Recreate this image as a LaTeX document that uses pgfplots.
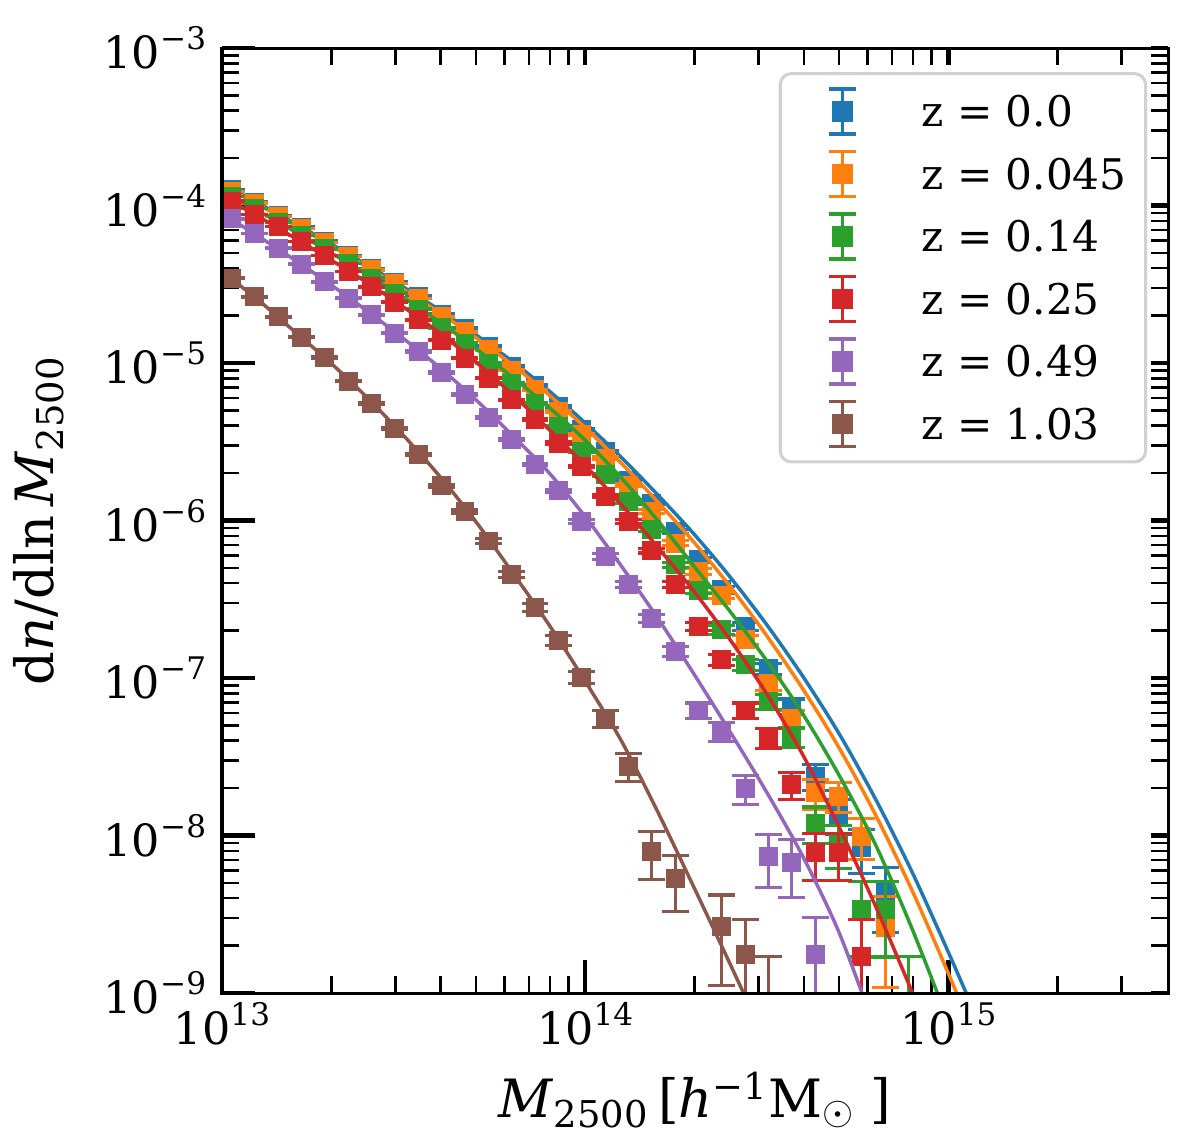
\documentclass[border=0pt]{standalone}
\usepackage{fontspec}
\setmainfont{DejaVu Serif}
\usepackage{pgfplots}
\pgfplotsset{compat=1.18}
\definecolor{tblue}{HTML}{1F77B4}
\definecolor{torange}{HTML}{FF7F0E}
\definecolor{tgreen}{HTML}{2CA02C}
\definecolor{tred}{HTML}{D62728}
\definecolor{tpurple}{HTML}{9467BD}
\definecolor{tbrown}{HTML}{8C564B}
\newcommand{\ts}[1]{\raisebox{0.42em}{\fontsize{11.2}{12}\selectfont #1}}
\pgfplotsset{
  errleg/.style={legend image code/.code={%
    \path (-15.15pt,0pt);
    \draw[#1,sharp corners,line width=1.1pt] (0pt,-8.1pt) -- (0pt,8.1pt);
    \draw[#1,sharp corners,line width=1.1pt] (-4.85pt,-8.1pt) -- (4.85pt,-8.1pt);
    \draw[#1,sharp corners,line width=1.1pt] (-4.85pt,8.1pt) -- (4.85pt,8.1pt);
    \fill[#1,sharp corners] (-3.2pt,-3.2pt) rectangle (3.2pt,3.2pt);
  }},
  dat/.style={#1, only marks, mark=square*, mark size=3.2pt, errleg=#1,
    mark options={solid},
    error bars/.cd, y dir=both, y explicit relative,
    error bar style={line width=1.1pt, solid},
    error mark options={rotate=90, mark size=4.85pt, line width=1.1pt, solid}},
  mdl/.style={#1, line width=1.25pt, no marks, smooth, forget plot},
}
\begin{document}
\begin{tikzpicture}
\begin{axis}[
  scale only axis, width=340.6pt, height=340.2pt,
  xmode=log, ymode=log,
  xmin=1e13, xmax=4.03e15, ymin=1e-9, ymax=1e-3,
  xtick={1e13,1e14,1e15},
  xticklabels={10\ts{13},10\ts{14},10\ts{15}},
  ytick={1e-9,1e-8,1e-7,1e-6,1e-5,1e-4,1e-3},
  yticklabels={10\ts{−9},10\ts{−8},10\ts{−7},10\ts{−6},10\ts{−5},10\ts{−4},10\ts{−3}},
  minor xtick={2e13,3e13,4e13,5e13,6e13,7e13,8e13,9e13,2e14,3e14,4e14,5e14,6e14,7e14,8e14,9e14,2e15,3e15},
  minor ytick={2e-9,3e-9,4e-9,5e-9,6e-9,7e-9,8e-9,9e-9,2e-8,3e-8,4e-8,5e-8,6e-8,7e-8,8e-8,9e-8,2e-7,3e-7,4e-7,5e-7,6e-7,7e-7,8e-7,9e-7,2e-6,3e-6,4e-6,5e-6,6e-6,7e-6,8e-6,9e-6,2e-5,3e-5,4e-5,5e-5,6e-5,7e-5,8e-5,9e-5,2e-4,3e-4,4e-4,5e-4,6e-4,7e-4,8e-4,9e-4},
  xtick pos=left, ytick pos=left,
  tick align=inside,
  major tick length=11.9pt, minor tick length=6.1pt,
  major tick style={line width=1.6pt, black},
  minor tick style={line width=0.9pt, black},
  axis line style={line width=1.1pt},
  tick label style={font=\fontsize{16}{19}\selectfont},
  yticklabel style={xshift=-2.2pt},
  label style={font=\fontsize{19}{22}\selectfont},
  xlabel={\textit{M}\textsubscript{2500}\,[\textit{h}\textsuperscript{−1}M$_{\odot}$\hspace{0.3em}]},
  ylabel={d\textit{n}/dln\,\textit{M}\textsubscript{2500}},
  xlabel style={at={(axis description cs:0.5,-0.1312)}, anchor=base},
  ylabel style={at={(axis description cs:-0.1786,0.5)}, anchor=base},
  clip marker paths=true,
  legend cell align=left,
  legend style={at={(0.9778,0.9746)}, anchor=north east, draw=black!18, line width=1.1pt,
    rounded corners=4pt, fill=white, inner xsep=6.8pt, inner ysep=5pt,
    row sep=5.2pt, column sep=22.9pt, font=\fontsize{15.2}{18}\selectfont,
    nodes={inner sep=0pt, text height=11.1pt, text depth=0pt, anchor=west}},
]
% ---------------- z = 0.0 ----------------
\addplot[dat=tblue] coordinates {
(1.062e13,1.259e-4) +- (0,0.0026)
(1.231e13,1.052e-4) +- (0,0.0028)
(1.428e13,8.650e-5) +- (0,0.0031)
(1.655e13,7.295e-5) +- (0,0.0034)
(1.919e13,5.943e-5) +- (0,0.0037)
(2.226e13,4.808e-5) +- (0,0.0042)
(2.581e13,3.981e-5) +- (0,0.0046)
(2.993e13,3.273e-5) +- (0,0.0050)
(3.470e13,2.661e-5) +- (0,0.0056)
(4.024e13,2.042e-5) +- (0,0.0064)
(4.667e13,1.660e-5) +- (0,0.0071)
(5.411e13,1.279e-5) +- (0,0.0081)
(6.275e13,9.506e-6) +- (0,0.0094)
(7.276e13,7.244e-6) +- (0,0.0107)
(8.437e13,5.309e-6) +- (0,0.0125)
(9.784e13,3.802e-6) +- (0,0.0148)
(1.1345e14,2.748e-6) +- (0,0.0174)
(1.3155e14,1.799e-6) +- (0,0.0215)
(1.5254e14,1.291e-6) +- (0,0.0254)
(1.7688e14,8.531e-7) +- (0,0.0313)
(2.0512e14,5.636e-7) +- (0,0.0384)
(2.3784e14,3.631e-7) +- (0,0.0479)
(2.758e14,2.128e-7) +- (0,0.0626)
(3.198e14,1.146e-7) +- (0,0.0853)
(3.7085e14,6.622e-8) +- (0,0.112)
(4.300e14,2.377e-8) +- (0,0.187)
(4.9865e14,1.358e-8) +- (0,0.248)
(5.782e14,8.356e-9) +- (0,0.316)
(6.705e14,4.325e-9) +- (0,0.44)
};
\addlegendentry{z = 0.0}
\addplot[mdl=tblue] coordinates {
(1e13,1.374e-4)(1.259e13,1.035e-4)(1.585e13,7.727e-5)(1.995e13,5.715e-5)(2.512e13,4.188e-5)(3.162e13,3.034e-5)(3.981e13,2.163e-5)(5.012e13,1.507e-5)(6.310e13,1.023e-5)(7.943e13,6.683e-6)(1e14,4.169e-6)(1.259e14,2.512e-6)(1.585e14,1.455e-6)(1.995e14,8.204e-7)(2.512e14,4.355e-7)(3.162e14,2.183e-7)(3.981e14,1.021e-7)(5.012e14,4.406e-8)(6.310e14,1.698e-8)(7.943e14,5.888e-9)(1e15,1.820e-9)(1.259e15,5.370e-10)
};
% ---------------- z = 0.045 ----------------
\addplot[dat=torange] coordinates {
(1.062e13,1.233e-4) +- (0,0.0026)
(1.231e13,1.035e-4) +- (0,0.0028)
(1.428e13,8.532e-5) +- (0,0.0031)
(1.655e13,7.129e-5) +- (0,0.0034)
(1.919e13,5.834e-5) +- (0,0.0038)
(2.226e13,4.753e-5) +- (0,0.0042)
(2.581e13,3.917e-5) +- (0,0.0046)
(2.993e13,3.199e-5) +- (0,0.0051)
(3.470e13,2.570e-5) +- (0,0.0057)
(4.024e13,1.972e-5) +- (0,0.0065)
(4.667e13,1.585e-5) +- (0,0.0073)
(5.411e13,1.213e-5) +- (0,0.0083)
(6.275e13,9.016e-6) +- (0,0.0096)
(7.276e13,6.761e-6) +- (0,0.0111)
(8.437e13,4.920e-6) +- (0,0.0130)
(9.784e13,3.499e-6) +- (0,0.0154)
(1.1345e14,2.489e-6) +- (0,0.0183)
(1.3155e14,1.679e-6) +- (0,0.0223)
(1.5254e14,1.143e-6) +- (0,0.0270)
(1.7688e14,7.194e-7) +- (0,0.0340)
(2.0512e14,4.753e-7) +- (0,0.0419)
(2.3784e14,3.350e-7) +- (0,0.0499)
(2.758e14,1.754e-7) +- (0,0.0689)
(3.198e14,9.204e-8) +- (0,0.0952)
(3.7085e14,5.521e-8) +- (0,0.123)
(4.300e14,1.866e-8) +- (0,0.211)
(4.9865e14,1.778e-8) +- (0,0.217)
(5.782e14,9.908e-9) +- (0,0.29)
(6.705e14,2.594e-9) +- (0,0.58)
};
\addlegendentry{z = 0.045}
\addplot[mdl=torange] coordinates {
(1e13,1.346e-4)(1.259e13,1.012e-4)(1.585e13,7.534e-5)(1.995e13,5.559e-5)(2.512e13,4.064e-5)(3.162e13,2.931e-5)(3.981e13,2.080e-5)(5.012e13,1.442e-5)(6.310e13,9.727e-6)(7.943e13,6.295e-6)(1e14,3.890e-6)(1.259e14,2.307e-6)(1.585e14,1.312e-6)(1.995e14,7.278e-7)(2.512e14,3.793e-7)(3.162e14,1.858e-7)(3.981e14,8.492e-8)(5.012e14,3.581e-8)(6.310e14,1.349e-8)(7.943e14,4.498e-9)(1e15,1.334e-9)(1.259e15,3.758e-10)
};
% ---------------- z = 0.14 ----------------
\addplot[dat=tgreen] coordinates {
(1.062e13,1.143e-4) +- (0,0.0027)
(1.231e13,9.550e-5) +- (0,0.0030)
(1.428e13,7.852e-5) +- (0,0.0033)
(1.655e13,6.457e-5) +- (0,0.0036)
(1.919e13,5.321e-5) +- (0,0.0040)
(2.226e13,4.285e-5) +- (0,0.0044)
(2.581e13,3.467e-5) +- (0,0.0049)
(2.993e13,2.786e-5) +- (0,0.0055)
(3.470e13,2.198e-5) +- (0,0.0062)
(4.024e13,1.679e-5) +- (0,0.0070)
(4.667e13,1.337e-5) +- (0,0.0079)
(5.411e13,9.977e-6) +- (0,0.0091)
(6.275e13,7.413e-6) +- (0,0.0106)
(7.276e13,5.559e-6) +- (0,0.0122)
(8.437e13,3.954e-6) +- (0,0.0145)
(9.784e13,2.742e-6) +- (0,0.0174)
(1.1345e14,1.954e-6) +- (0,0.0207)
(1.3155e14,1.321e-6) +- (0,0.0251)
(1.5254e14,8.750e-7) +- (0,0.0309)
(1.7688e14,5.236e-7) +- (0,0.0399)
(2.0512e14,3.606e-7) +- (0,0.0481)
(2.3784e14,2.028e-7) +- (0,0.0641)
(2.758e14,1.216e-7) +- (0,0.0828)
(3.198e14,7.112e-8) +- (0,0.108)
(3.7085e14,4.227e-8) +- (0,0.140)
(4.300e14,1.202e-8) +- (0,0.263)
(4.9865e14,8.913e-9) +- (0,0.306)
(5.782e14,3.388e-9) +- (0,0.5)
(6.705e14,3.388e-9) +- (0,0.5)
(7.775e14,8.6e-10) +- (0,0.99)
};
\addlegendentry{z = 0.14}
\addplot[mdl=tgreen] coordinates {
(1e13,1.230e-4)(1.259e13,9.226e-5)(1.585e13,6.839e-5)(1.995e13,5.012e-5)(2.512e13,3.631e-5)(3.162e13,2.600e-5)(3.981e13,1.820e-5)(5.012e13,1.230e-5)(6.310e13,8.128e-6)(7.943e13,5.248e-6)(1e14,3.236e-6)(1.259e14,1.862e-6)(1.585e14,1.000e-6)(1.995e14,5.129e-7)(2.512e14,2.630e-7)(3.162e14,1.288e-7)(3.981e14,5.888e-8)(5.012e14,2.399e-8)(6.310e14,8.710e-9)(7.943e14,2.570e-9)(1e15,6.607e-10)
};
% ---------------- z = 0.25 ----------------
\addplot[dat=tred] coordinates {
(1.062e13,1.069e-4) +- (0,0.0028)
(1.231e13,8.790e-5) +- (0,0.0031)
(1.428e13,7.345e-5) +- (0,0.0034)
(1.655e13,5.902e-5) +- (0,0.0038)
(1.919e13,4.808e-5) +- (0,0.0042)
(2.226e13,3.819e-5) +- (0,0.0047)
(2.581e13,3.055e-5) +- (0,0.0052)
(2.993e13,2.427e-5) +- (0,0.0059)
(3.470e13,1.884e-5) +- (0,0.0067)
(4.024e13,1.396e-5) +- (0,0.0077)
(4.667e13,1.074e-5) +- (0,0.0088)
(5.411e13,8.017e-6) +- (0,0.0102)
(6.275e13,5.834e-6) +- (0,0.0120)
(7.276e13,4.365e-6) +- (0,0.0138)
(8.437e13,3.105e-6) +- (0,0.0164)
(9.784e13,2.203e-6) +- (0,0.0195)
(1.1345e14,1.429e-6) +- (0,0.0242)
(1.3155e14,9.863e-7) +- (0,0.0291)
(1.5254e14,6.457e-7) +- (0,0.0359)
(1.7688e14,3.917e-7) +- (0,0.0461)
(2.0512e14,2.128e-7) +- (0,0.0626)
(2.3784e14,1.309e-7) +- (0,0.0798)
(2.758e14,6.223e-8) +- (0,0.116)
(3.198e14,4.169e-8) +- (0,0.141)
(3.7085e14,2.109e-8) +- (0,0.199)
(4.300e14,7.762e-9) +- (0,0.33)
(4.9865e14,7.762e-9) +- (0,0.33)
(5.782e14,1.714e-9) +- (0,0.707)
};
\addlegendentry{z = 0.25}
\addplot[mdl=tred] coordinates {
(1e13,1.148e-4)(1.259e13,8.511e-5)(1.585e13,6.237e-5)(1.995e13,4.519e-5)(2.512e13,3.236e-5)(3.162e13,2.265e-5)(3.981e13,1.549e-5)(5.012e13,1.012e-5)(6.310e13,6.310e-6)(7.943e13,3.802e-6)(1e14,2.239e-6)(1.259e14,1.259e-6)(1.585e14,6.761e-7)(1.995e14,3.548e-7)(2.512e14,1.738e-7)(3.162e14,7.943e-8)(3.981e14,3.236e-8)(5.012e14,1.122e-8)(6.310e14,3.548e-9)(7.943e14,1.023e-9)(1e15,2.884e-10)
};
% ---------------- z = 0.49 ----------------
\addplot[dat=tpurple] coordinates {
(1.062e13,8.241e-5) +- (0,0.0032)
(1.231e13,6.668e-5) +- (0,0.0035)
(1.428e13,5.358e-5) +- (0,0.0039)
(1.655e13,4.236e-5) +- (0,0.0044)
(1.919e13,3.289e-5) +- (0,0.0050)
(2.226e13,2.582e-5) +- (0,0.0057)
(2.581e13,2.023e-5) +- (0,0.0064)
(2.993e13,1.549e-5) +- (0,0.0073)
(3.470e13,1.183e-5) +- (0,0.0084)
(4.024e13,8.690e-6) +- (0,0.0098)
(4.667e13,6.324e-6) +- (0,0.0115)
(5.411e13,4.498e-6) +- (0,0.0136)
(6.275e13,3.281e-6) +- (0,0.0159)
(7.276e13,2.275e-6) +- (0,0.0191)
(8.437e13,1.545e-6) +- (0,0.0232)
(9.784e13,9.863e-7) +- (0,0.0291)
(1.1345e14,5.916e-7) +- (0,0.0375)
(1.3155e14,3.917e-7) +- (0,0.0461)
(1.5254e14,2.399e-7) +- (0,0.0589)
(1.7688e14,1.476e-7) +- (0,0.0751)
(2.0512e14,6.223e-8) +- (0,0.116)
(2.3784e14,4.592e-8) +- (0,0.135)
(2.758e14,1.995e-8) +- (0,0.21)
(3.198e14,7.396e-9) +- (0,0.37)
(3.7085e14,6.714e-9) +- (0,0.40)
(4.300e14,1.758e-9) +- (0,0.707)
};
\addlegendentry{z = 0.49}
\addplot[mdl=tpurple] coordinates {
(1e13,8.913e-5)(1.259e13,6.383e-5)(1.585e13,4.519e-5)(1.995e13,3.141e-5)(2.512e13,2.138e-5)(3.162e13,1.429e-5)(3.981e13,9.333e-6)(5.012e13,5.821e-6)(6.310e13,3.467e-6)(7.943e13,2.018e-6)(1e14,1.059e-6)(1.259e14,5.129e-7)(1.585e14,2.399e-7)(1.995e14,1.059e-7)(2.512e14,4.519e-8)(3.162e14,1.884e-8)(3.981e14,7.328e-9)(5.012e14,2.399e-9)(6.310e14,5.754e-10)
};
% ---------------- z = 1.03 ----------------
\addplot[dat=tbrown] coordinates {
(1.062e13,3.459e-5) +- (0,0.0049)
(1.231e13,2.642e-5) +- (0,0.0056)
(1.428e13,1.972e-5) +- (0,0.0065)
(1.655e13,1.459e-5) +- (0,0.0076)
(1.919e13,1.084e-5) +- (0,0.0088)
(2.226e13,7.674e-6) +- (0,0.0104)
(2.581e13,5.559e-6) +- (0,0.0122)
(2.993e13,3.846e-6) +- (0,0.0147)
(3.470e13,2.630e-6) +- (0,0.0178)
(4.024e13,1.660e-6) +- (0,0.0224)
(4.667e13,1.148e-6) +- (0,0.0269)
(5.411e13,7.413e-7) +- (0,0.0335)
(6.275e13,4.571e-7) +- (0,0.0427)
(7.276e13,2.818e-7) +- (0,0.0544)
(8.437e13,1.738e-7) +- (0,0.0692)
(9.784e13,1.012e-7) +- (0,0.0907)
(1.1345e14,5.559e-8) +- (0,0.122)
(1.3155e14,2.748e-8) +- (0,0.2)
(1.5254e14,7.943e-9) +- (0,0.34)
(1.7688e14,5.370e-9) +- (0,0.39)
(2.3784e14,2.655e-9) +- (0,0.58)
(2.758e14,1.754e-9) +- (0,0.667)
(3.198e14,8.6e-10) +- (0,0.99)
};
\addlegendentry{z = 1.03}
\addplot[mdl=tbrown] coordinates {
(1e13,3.802e-5)(1.259e13,2.512e-5)(1.585e13,1.585e-5)(1.995e13,1.000e-5)(2.512e13,6.026e-6)(3.162e13,3.467e-6)(3.981e13,1.905e-6)(5.012e13,9.772e-7)(6.310e13,4.677e-7)(7.943e13,2.188e-7)(1e14,9.550e-8)(1.259e14,3.981e-8)(1.585e14,1.413e-8)(1.995e14,4.677e-9)(2.512e14,1.514e-9)(3.162e14,4.786e-10)
};
\end{axis}
% top and right ticks (shorter)
\begin{axis}[
  scale only axis, width=340.6pt, height=340.2pt,
  xmode=log, ymode=log,
  xmin=1e13, xmax=4.03e15, ymin=1e-9, ymax=1e-3,
  xtick={1e13,1e14,1e15},
  ytick={1e-9,1e-8,1e-7,1e-6,1e-5,1e-4,1e-3},
  minor xtick={2e13,3e13,4e13,5e13,6e13,7e13,8e13,9e13,2e14,3e14,4e14,5e14,6e14,7e14,8e14,9e14,2e15,3e15},
  minor ytick={2e-9,3e-9,4e-9,5e-9,6e-9,7e-9,8e-9,9e-9,2e-8,3e-8,4e-8,5e-8,6e-8,7e-8,8e-8,9e-8,2e-7,3e-7,4e-7,5e-7,6e-7,7e-7,8e-7,9e-7,2e-6,3e-6,4e-6,5e-6,6e-6,7e-6,8e-6,9e-6,2e-5,3e-5,4e-5,5e-5,6e-5,7e-5,8e-5,9e-5,2e-4,3e-4,4e-4,5e-4,6e-4,7e-4,8e-4,9e-4},
  xticklabels={}, yticklabels={},
  xtick pos=right, ytick pos=right,
  tick align=inside,
  major tick length=6.1pt, minor tick length=6.1pt,
  major tick style={line width=1.6pt, black},
  minor tick style={line width=0.9pt, black},
  axis line style={line width=1.1pt},
]
\end{axis}
\pgfresetboundingbox
\path[use as bounding box] (-79.9pt,-54.4pt) rectangle (352.1pt,357.5pt);
\end{tikzpicture}
\end{document}
